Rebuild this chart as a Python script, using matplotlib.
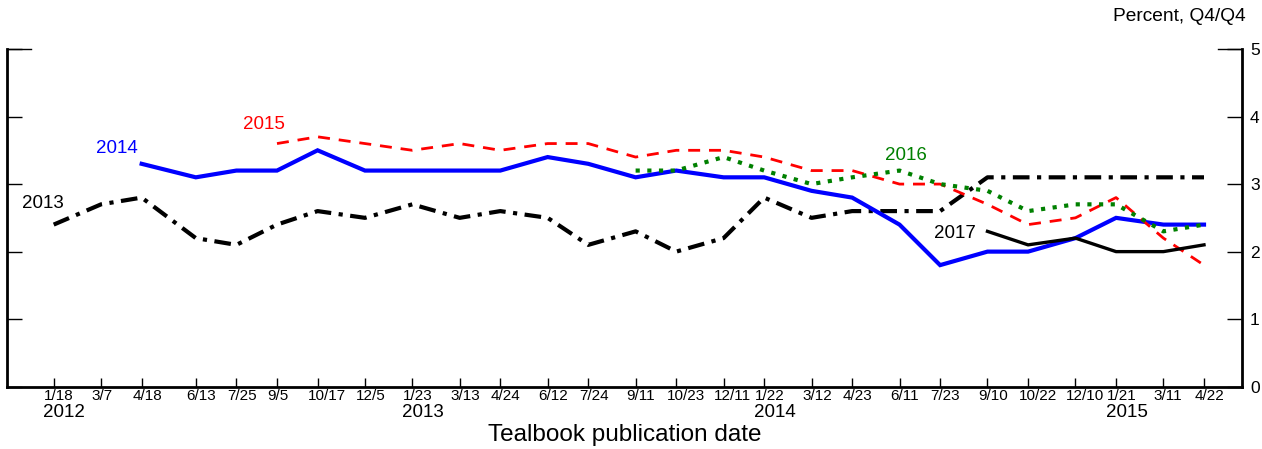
import numpy as np
import matplotlib
matplotlib.use("Agg")
import matplotlib.pyplot as plt
from matplotlib.transforms import ScaledTranslation
from datetime import datetime

plt.rcParams['font.family'] = ['Liberation Sans', 'DejaVu Sans']

nan = np.nan
dates = ["2012-01-18", "2012-03-07", "2012-04-18", "2012-06-13", "2012-07-25", "2012-09-05",
         "2012-10-17", "2012-12-05", "2013-01-23", "2013-03-13", "2013-04-24", "2013-06-12",
         "2013-07-24", "2013-09-11", "2013-10-23", "2013-12-11", "2014-01-22", "2014-03-12",
         "2014-04-23", "2014-06-11", "2014-07-23", "2014-09-10", "2014-10-22", "2014-12-10",
         "2015-01-21", "2015-03-11", "2015-04-22"]
tick_labels = ["1/18", "3/7", "4/18", "6/13", "7/25", "9/5", "10/17", "12/5", "1/23", "3/13",
               "4/24", "6/12", "7/24", "9/11", "10/23", "12/11", "1/22", "3/12", "4/23", "6/11",
               "7/23", "9/10", "10/22", "12/10", "1/21", "3/11", "4/22"]
year_labels = ["2012", "2013", "2014", "2015"]
year_dates = ["2012-01-18", "2013-01-23", "2014-01-22", "2015-01-21"]

y2013 = [2.4, 2.7, 2.8, 2.2, 2.1, 2.4, 2.6, 2.5, 2.7, 2.5, 2.6, 2.5, 2.1, 2.3, 2.0, 2.2, 2.8, 2.5,
         2.6, 2.6, 2.6, 3.1, 3.1, 3.1, 3.1, 3.1, 3.1]
y2014 = [nan, nan, 3.3, 3.1, 3.2, 3.2, 3.5, 3.2, 3.2, 3.2, 3.2, 3.4, 3.3, 3.1, 3.2, 3.1, 3.1, 2.9,
         2.8, 2.4, 1.8, 2.0, 2.0, 2.2, 2.5, 2.4, 2.4]
y2015 = [nan, nan, nan, nan, nan, 3.6, 3.7, 3.6, 3.5, 3.6, 3.5, 3.6, 3.6, 3.4, 3.5, 3.5, 3.4, 3.2,
         3.2, 3.0, 3.0, 2.7, 2.4, 2.5, 2.8, 2.2, 1.8]
y2016 = [nan] * 13 + [3.2, 3.2, 3.4, 3.2, 3.0, 3.1, 3.2, 3.0, 2.9, 2.6, 2.7, 2.7, 2.3, 2.4]
y2017 = [nan] * 21 + [2.3, 2.1, 2.2, 2.0, 2.0, 2.1]

# series label positions (date, value)
label_pos = {"2013": ("2012-01-07", 2.71), "2014": ("2012-03-23", 3.53),
             "2015": ("2012-08-23", 3.88), "2016": ("2014-06-18", 3.43),
             "2017": ("2014-08-07", 2.27)}

x = [datetime.strptime(d, "%Y-%m-%d") for d in dates]

fig = plt.figure(figsize=(12.62, 4.49), dpi=100)
ax = fig.add_axes([7.3 / 1262, (449 - 386.7) / 449, (1241.7 - 7.3) / 1262, (386.7 - 49) / 449])

ax.plot(x, y2013, color='black', lw=3.0, dashes=(4, 1.8, 1, 1.8), zorder=3)
ax.plot(x, y2014, color='#0000ff', lw=3.0, solid_joinstyle='miter', zorder=4)
ax.plot(x, y2015, color='#ff0000', lw=2.0, dashes=(4.3, 3.2), zorder=5)
ax.plot(x, y2016, color='#008000', lw=3.0, dashes=(1, 1.8), zorder=6)
ax.plot(x, y2017, color='black', lw=2.4, zorder=7)

colors = {"2013": "black", "2014": "#0000ff", "2015": "#ff0000", "2016": "#008000", "2017": "black"}
for k, (d, v) in label_pos.items():
    ax.text(datetime.strptime(d, "%Y-%m-%d"), v, k, color=colors[k], fontsize=13.5,
            ha='center', va='center')

ax.set_xlim(datetime(2011, 12, 1), datetime(2015, 5, 31))
ax.set_ylim(0, 5)

ax.spines['top'].set_visible(False)
for s in ['left', 'right', 'bottom']:
    ax.spines[s].set_linewidth(2.0)

ax.set_xticks(x)
ax.set_xticklabels(tick_labels)
ax.tick_params(axis='x', direction='in', length=6.5, width=1.0, pad=1.5, labelsize=11)
off = ScaledTranslation(-9.5 / 100, 0, fig.dpi_scale_trans)
for lab in ax.get_xticklabels():
    lab.set_horizontalalignment('left')
    lab.set_fontsize(11)
    lab.set_transform(lab.get_transform() + off)

ax.set_yticks(range(0, 6))
ax.tick_params(axis='y', direction='in', length=11, width=1.0, left=True, right=True,
               labelleft=False, labelright=True, labelsize=12.5, pad=6)

# longer top ticks
w = 24 / 1234.4
ax.plot([0, w], [1, 1], transform=ax.transAxes, color='black', lw=1.0, clip_on=False)
ax.plot([1 - w, 1], [1, 1], transform=ax.transAxes, color='black', lw=1.0, clip_on=False)

for yl, yd in zip(year_labels, year_dates):
    ax.annotate(yl, xy=(datetime.strptime(yd, "%Y-%m-%d"), 0), xycoords=('data', 'axes fraction'),
                xytext=(-7.5, -18.5), textcoords='offset points', ha='left', va='center',
                fontsize=13.5)

fig.text((7.3 + 1241.7) / 2 / 1262, (449 - 441) / 449, "Tealbook publication date",
         ha='center', va='baseline', fontsize=17.5)
fig.text(1246 / 1262, (449 - 21) / 449, "Percent, Q4/Q4", ha='right', va='baseline', fontsize=13.8)

fig.savefig("out.png", dpi=100)
